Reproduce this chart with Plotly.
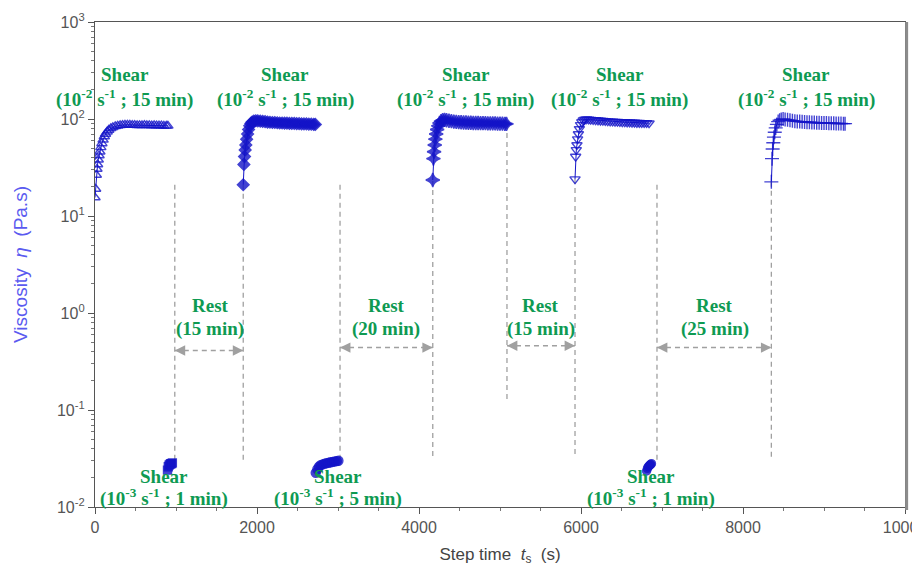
import math
import plotly.graph_objects as go

# ---------------- data ----------------
# Shear 10^-2 s^-1, 15 min (first step)
t_s1 = [0, 8, 16, 24, 32, 40, 50, 60, 72, 85, 100, 115, 130, 150, 170, 195, 220, 250, 280, 310,
        340, 370, 400, 430, 460, 490, 520, 550, 580, 610, 640, 670, 700, 730, 760, 790, 820, 850, 880, 900]
eta_s1 = [15.5, 19, 26.5, 30.5, 34, 38, 42, 46, 51, 56, 61, 66, 70, 74, 77, 80, 82, 84, 85, 86,
          86.5, 87, 87, 87, 86.5, 86.5, 86, 86, 86, 86.5, 86, 86, 85.5, 86, 85.5, 85.5, 85.5, 85, 85, 85]

# Shear 10^-3 s^-1, 1 min
t_s2 = [895, 905, 915, 925, 935, 945, 955]
eta_s2 = [0.024, 0.026, 0.027, 0.0275, 0.028, 0.028, 0.0285]

# Shear 10^-2 s^-1, 15 min (after 15 min rest)
t_s3 = [1830, 1838, 1846, 1854, 1862, 1872, 1884, 1896, 1910, 1925, 1940, 1960, 1985, 2010, 2040,
        2070, 2100, 2130, 2160, 2190, 2220, 2250, 2280, 2310, 2340, 2370, 2400, 2430, 2460, 2490,
        2520, 2550, 2580, 2610, 2640, 2670, 2700, 2720]
eta_s3 = [21, 34, 41, 48, 54, 62, 70, 78, 85, 90, 93, 95, 96, 95.5, 95, 94.5, 94, 93, 92.5, 92,
          92, 91.5, 91, 91, 90.5, 90.5, 90, 90, 90, 89.5, 89.5, 89, 89, 89, 88.5, 88.5, 88, 88]

# Shear 10^-3 s^-1, 5 min
t_s4 = [2725, 2745, 2765, 2785, 2810, 2835, 2860, 2885, 2910, 2935, 2960, 2985, 3005]
eta_s4 = [0.0225, 0.0245, 0.026, 0.027, 0.0275, 0.028, 0.0283, 0.0286, 0.0289, 0.0292, 0.0295, 0.0297, 0.030]

# Shear 10^-2 s^-1, 15 min (after 20 min rest)
t_s5 = [4170, 4178, 4186, 4194, 4202, 4212, 4224, 4238, 4254, 4272, 4292, 4315, 4340, 4370, 4400,
        4430, 4460, 4490, 4520, 4550, 4580, 4610, 4640, 4670, 4700, 4730, 4760, 4790, 4820, 4850,
        4880, 4910, 4940, 4970, 5000, 5030, 5060, 5080]
eta_s5 = [23.5, 39, 46, 54, 62, 70, 78, 85, 91, 95, 97, 98, 97, 96, 95, 94, 93.5, 93, 92.5, 92,
          92, 91.5, 91.5, 91, 91, 91, 90.5, 90.5, 90.5, 90, 90, 90, 90, 89.5, 89.5, 89.5, 89, 89]

# Shear 10^-2 s^-1, 15 min (after 15 min rest)
t_s6 = [5926, 5934, 5942, 5950, 5958, 5968, 5980, 5994, 6010, 6028, 6048, 6070, 6095, 6120, 6150,
        6180, 6210, 6240, 6270, 6300, 6330, 6360, 6390, 6420, 6450, 6480, 6510, 6540, 6570, 6600,
        6630, 6660, 6690, 6720, 6750, 6780, 6810, 6840]
eta_s6 = [24, 41, 48, 54, 62, 70, 79, 87, 93, 97, 99, 99.5, 99, 98.5, 98, 97.5, 97, 96.5, 96, 95.5,
          95, 94.5, 94.5, 94, 94, 93.5, 93, 93, 92.5, 92.5, 92, 92, 91.5, 91.5, 91, 91, 91, 90.5]

# Shear 10^-3 s^-1, 1 min
t_s7 = [6810, 6820, 6830, 6840, 6850, 6860, 6870]
eta_s7 = [0.0235, 0.025, 0.026, 0.0265, 0.027, 0.0275, 0.028]

# Shear 10^-2 s^-1, 15 min (after 25 min rest)
t_s8 = [8350, 8358, 8366, 8374, 8382, 8392, 8404, 8418, 8434, 8452, 8472, 8495, 8520, 8550, 8580,
        8610, 8640, 8670, 8700, 8730, 8760, 8790, 8820, 8850, 8880, 8910, 8940, 8970, 9000, 9030,
        9060, 9090, 9120, 9150, 9180, 9210, 9240, 9260]
eta_s8 = [22.5, 39, 49, 57, 65, 73, 81, 88, 94, 97, 99, 100, 99, 98, 97, 96, 95, 94.5, 94, 93.5,
          93, 92.5, 92.5, 92, 92, 91.5, 91.5, 91, 91, 91, 90.5, 90.5, 90.5, 90, 90, 90, 89.5, 89.5]

# step boundaries (s) with the viscosity span of each dashed marker line
boundary_t = [985, 1830, 3025, 4170, 5086, 5926, 6938, 8350]
boundary_top = [21, 21, 21, 23, 89, 24, 21, 22.5]
boundary_bottom = [0.03, 0.029, 0.031, 0.031, 0.127, 0.034, 0.03, 0.03]

# rest intervals: start, end, level of the arrow, label
rest_start = [985, 3025, 5086, 6938]
rest_end = [1830, 4170, 5926, 8350]
rest_level = [0.41, 0.44, 0.46, 0.44]
rest_labels = ["(15 min)", "(20 min)", "(15 min)", "(25 min)"]
rest_label_t = [1420, 3593, 5506, 7654]

# shear step labels
high_label_t = [370, 2346, 4580, 6481, 8778]
high_text = "(10<sup>-2</sup> s<sup>-1</sup> ; 15 min)"
low_label_t = [852, 3000, 6864]
low_texts = ["(10<sup>-3</sup> s<sup>-1</sup> ; 1 min)",
             "(10<sup>-3</sup> s<sup>-1</sup> ; 5 min)",
             "(10<sup>-3</sup> s<sup>-1</sup> ; 1 min)"]

x_ticks = [0, 2000, 4000, 6000, 8000, 10000]
y_tick_exp = [-2, -1, 0, 1, 2, 3]

# ---------------- figure ----------------
BLUE = "#1414c8"
GREEN = "#0e9a52"
GREY = "#a0a0a0"
SERIF = "Liberation Serif, Times New Roman, serif"
SANS = "Liberation Sans Narrow, Liberation Sans, Arial, sans-serif"

fig = go.Figure()

# dashed step boundaries
for t, top, bot in zip(boundary_t, boundary_top, boundary_bottom):
    fig.add_trace(go.Scatter(x=[t, t], y=[top, bot], mode="lines",
                             line=dict(color=GREY, width=1.3, dash="5px,4px"),
                             hoverinfo="skip", showlegend=False))

series = [
    (t_s1, eta_s1, "triangle-up-open", 9),
    (t_s2, eta_s2, "square", 8),
    (t_s3, eta_s3, "diamond", 9),
    (t_s4, eta_s4, "circle", 9),
    (t_s5, eta_s5, "star-diamond", 10),
    (t_s6, eta_s6, "triangle-down-open", 9),
    (t_s7, eta_s7, "circle", 8),
    (t_s8, eta_s8, "cross-thin-open", 10),
]
for t, eta, sym, sz in series:
    fig.add_trace(go.Scatter(
        x=t, y=eta, mode="lines+markers",
        line=dict(color=BLUE, width=1),
        marker=dict(symbol=sym, size=sz, color=BLUE, opacity=0.8,
                    line=dict(color=BLUE, width=1.4)),
        showlegend=False))

annotations = []

# rest arrows (dashed shaft + heads at both ends)
for a, b, lev in zip(rest_start, rest_end, rest_level):
    fig.add_trace(go.Scatter(x=[a, b], y=[lev, lev], mode="lines",
                             line=dict(color=GREY, width=1.5, dash="5px,4px"),
                             hoverinfo="skip", showlegend=False))
    ly = math.log10(lev)
    for tip, tail in ((a, a + 90), (b, b - 90)):
        annotations.append(dict(x=tip, y=ly, ax=tail, ay=ly, xref="x", yref="y",
                                axref="x", ayref="y", text="", showarrow=True,
                                arrowhead=2, arrowsize=1.3, arrowwidth=1.6,
                                arrowcolor=GREY, standoff=0, startstandoff=0))

label_font = dict(family=SERIF, size=19, color=GREEN)

for tx, lab in zip(rest_label_t, rest_labels):
    annotations.append(dict(x=tx, y=0.08, xref="x", yref="y", text="<b>Rest</b>",
                            showarrow=False, font=label_font))
    annotations.append(dict(x=tx, y=-0.165, xref="x", yref="y", text=f"<b>{lab}</b>",
                            showarrow=False, font=label_font))

for tx in high_label_t:
    annotations.append(dict(x=tx, y=2.455, xref="x", yref="y", text="<b>Shear</b>",
                            showarrow=False, font=label_font))
    annotations.append(dict(x=tx, y=2.215, xref="x", yref="y", text=f"<b>{high_text}</b>",
                            showarrow=False, font=label_font))

for tx, txt in zip(low_label_t, low_texts):
    annotations.append(dict(x=tx, y=-1.69, xref="x", yref="y", text="<b>Shear</b>",
                            showarrow=False, font=label_font))
    annotations.append(dict(x=tx, y=-1.9, xref="x", yref="y", text=f"<b>{txt}</b>",
                            showarrow=False, font=label_font))

fig.update_layout(
    width=912, height=571,
    margin=dict(l=95, r=7, t=22, b=64, autoexpand=False),
    paper_bgcolor="white", plot_bgcolor="white",
    showlegend=False,
    annotations=annotations,
    shapes=[dict(type="line", xref="paper", yref="paper", x0=1.002, x1=1.002, y0=-0.006, y1=1,
                 line=dict(color="#8c8c8c", width=3))],
)

fig.update_xaxes(
    range=[0, 10000], tickvals=x_ticks, ticktext=[str(v) for v in x_ticks],
    ticklabeloverflow="allow", automargin=False,
    ticks="outside", ticklen=6, tickcolor="#555", tickwidth=1.2,
    minor=dict(dtick=500, tick0=0, ticks="outside", ticklen=3, tickcolor="#777"),
    showline=True, linecolor="#555", linewidth=1.3, mirror=True,
    showgrid=False, zeroline=False,
    tickfont=dict(family=SANS, size=16, color="#555"),
    title=dict(text="Step time  <i>t</i><sub>s</sub>  (s)", standoff=12,
               font=dict(family=SANS, size=17, color="#444")),
)

minor_vals = [m * 10 ** e for e in y_tick_exp[:-1] for m in range(2, 10)]
fig.update_yaxes(
    type="log", range=[-2, 3], automargin=False,
    tickvals=[10 ** e for e in y_tick_exp],
    ticktext=[f"10<sup>{e}</sup>" for e in y_tick_exp],
    ticks="outside", ticklen=6, tickcolor="#555", tickwidth=1.2,
    minor=dict(tickvals=minor_vals, ticks="outside", ticklen=3, tickcolor="#777"),
    showline=True, linecolor="#555", linewidth=1.3, mirror=True,
    showgrid=False, zeroline=False,
    tickfont=dict(family=SANS, size=16, color="#555"),
    title=dict(text="Viscosity  <i>η</i>  (Pa.s)", standoff=24,
               font=dict(family=SANS, size=19, color="#5a5af0")),
)

fig.write_html("out.html")
